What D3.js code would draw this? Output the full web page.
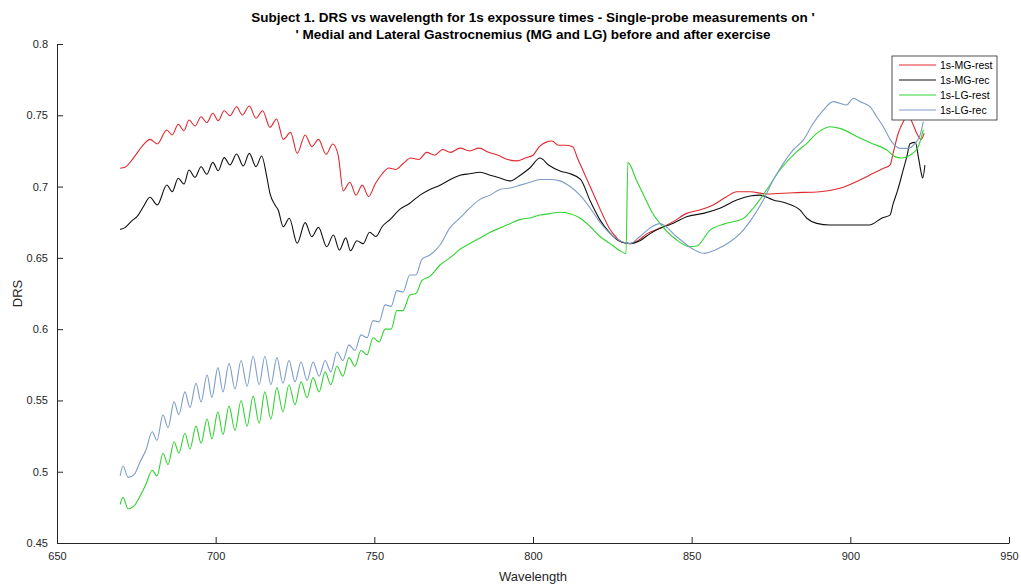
<!DOCTYPE html>
<html>
<head>
<meta charset="utf-8">
<script src="https://cdn.jsdelivr.net/npm/d3@7"></script>
<style>
	body { margin: 0; background: #fff; }
	svg { display: block; font-family: "Liberation Sans", Arial, sans-serif; }
</style>
</head>
<body>
<div id="chart"></div>
<script>
var titleLines = [
	"Subject 1. DRS vs wavelength for 1s expossure times - Single-probe measurements on '",
	"' Medial and Lateral Gastrocnemius (MG and LG) before and after exercise"
];
var xTicks = [650, 700, 750, 800, 850, 900, 950];
var yTicks = [0.45, 0.5, 0.55, 0.6, 0.65, 0.7, 0.75, 0.8];
var seriesNames = ["1s-MG-rest", "1s-MG-rec", "1s-LG-rest", "1s-LG-rec"];

// [wavelength, DRS]
var mgRest = [
	[669.9,0.7128],[671.4,0.7135],[674,0.7198],[677.2,0.7292],[679.3,0.7331],[681.6,0.7299],[684.6,0.7397],[686.3,0.7362],
	[688.2,0.7437],[690,0.7392],[691.6,0.7467],[693.5,0.7425],[695.4,0.749],[697.2,0.7448],[699.1,0.7514],[700.8,0.7462],
	[702.7,0.7532],[704.5,0.7497],[706.6,0.756],[708.4,0.7502],[710.6,0.7565],[712.7,0.7479],[714.8,0.7532],[717.1,0.7416],
	[719.2,0.7474],[721.3,0.7331],[723.6,0.738],[725.7,0.7233],[728.2,0.7362],[730.3,0.728],[732.4,0.7331],[734.8,0.7226],
	[736.9,0.7299],[738.6,0.7221],[740.2,0.697],[742.3,0.703],[744.2,0.694],[746.2,0.701],[748.2,0.693],[750.3,0.702],
	[752.5,0.709],[754.6,0.713],[756.8,0.712],[759,0.716],[761.5,0.72],[764,0.719],[766.5,0.724],[769,0.722],
	[771.5,0.726],[774,0.724],[777,0.727],[780,0.725],[783,0.727],[786,0.724],[789,0.722],[792,0.719],
	[795,0.718],[797.5,0.72],[800,0.722],[802,0.728],[804,0.731],[806,0.732],[808,0.729],[810,0.729],
	[812.5,0.728],[814,0.72],[816,0.71],[818,0.7],[820,0.69],[822,0.68],[824,0.671],[826,0.665],
	[828,0.661],[830.5,0.66],[833,0.662],[836,0.667],[840,0.6707],[844.2,0.6754],[848.4,0.6812],[852.6,0.6836],
	[856.8,0.6871],[861,0.6929],[864.2,0.6964],[868.4,0.6964],[873.6,0.6948],[882,0.6957],[890.4,0.6964],[896.7,0.6988],
	[903,0.7046],[907.2,0.7093],[910.4,0.7128],[912.5,0.7151],[913.6,0.7245],[915.1,0.7374],[916.7,0.7455],[918.3,0.7502],
	[919.5,0.745],[921,0.737],[922.3,0.733],[923.3,0.7375]
];
var mgRec = [
	[669.9,0.67],[671.4,0.6712],[673.5,0.6758],[675.6,0.68],[677.2,0.6859],[679.3,0.6925],[681.6,0.6871],[684.6,0.7011],
	[686.3,0.6964],[688.2,0.7058],[690,0.7018],[691.6,0.7116],[693.5,0.7065],[695.4,0.7139],[697.2,0.7086],[699.1,0.717],
	[700.8,0.7111],[702.7,0.7203],[704.5,0.7151],[706.6,0.7228],[708.7,0.7144],[710.6,0.7233],[712.7,0.714],[714.5,0.7214],
	[716.1,0.7069],[717.1,0.6953],[718.7,0.6871],[719.7,0.6836],[721.3,0.6719],[723.2,0.6778],[725.7,0.6602],[728.2,0.6747],
	[730.3,0.6648],[732.4,0.6714],[735,0.6578],[737.1,0.666],[739,0.6555],[741,0.664],[742.5,0.655],[744.5,0.662],
	[746.5,0.66],[748.5,0.668],[750.5,0.665],[752.5,0.672],[755,0.677],[758,0.684],[761,0.688],[764.4,0.694],
	[767.5,0.698],[770.7,0.701],[774,0.705],[777,0.708],[780,0.709],[783.3,0.71],[786.5,0.708],[789.6,0.706],
	[792.8,0.704],[796,0.708],[799,0.713],[802.2,0.72],[805,0.715],[808.5,0.711],[811.7,0.709],[815,0.705],
	[818,0.69],[821,0.677],[824,0.668],[827,0.662],[830.6,0.66],[833.7,0.662],[836.9,0.667],[840,0.6707],
	[844.2,0.6742],[848.4,0.6789],[853.7,0.6812],[858.9,0.6848],[864.2,0.6906],[868.4,0.6934],[871.5,0.694],[875.7,0.6906],
	[879.9,0.6883],[884.1,0.6836],[886.3,0.6778],[889.4,0.6742],[893.6,0.673],[900,0.673],[906,0.673],[910,0.678],
	[912.5,0.68],[913.5,0.688],[915,0.698],[916.7,0.712],[917.8,0.721],[918.8,0.73],[920.5,0.731],[921.5,0.72],
	[922.3,0.71],[922.8,0.706],[923.5,0.715]
];
var lgRest = [
	[669.9,0.477],[670.8,0.482],[672.4,0.474],[674.3,0.476],[676.2,0.483],[678,0.491],[680,0.501],[681.5,0.497],
	[683.4,0.513],[685,0.505],[686.9,0.521],[688.4,0.513],[690.3,0.527],[691.9,0.516],[693.8,0.532],[695.4,0.52],
	[697.3,0.537],[698.8,0.523],[700.7,0.542],[702.3,0.526],[704.2,0.546],[706.1,0.529],[708,0.55],[709.9,0.532],
	[711.8,0.553],[713.7,0.534],[715.5,0.556],[717.4,0.537],[719.3,0.559],[721.2,0.542],[723.1,0.561],[725,0.547],
	[726.9,0.563],[728.8,0.552],[730.7,0.566],[732.6,0.556],[734.5,0.57],[736.3,0.561],[738.2,0.574],[740.1,0.567],
	[742,0.58],[743.9,0.574],[745.8,0.585],[747.7,0.582],[749.6,0.594],[751.5,0.591],[753.4,0.6],[755.3,0.6],
	[757.1,0.613],[759,0.613],[761.2,0.624],[763.1,0.625],[765,0.634],[767.5,0.637],[770.7,0.645],[773.8,0.65],
	[777,0.656],[780.1,0.66],[783.3,0.664],[786.5,0.668],[789.6,0.671],[792.8,0.674],[796,0.677],[799,0.678],
	[802.2,0.68],[805.4,0.681],[808.5,0.682],[811.7,0.681],[814.8,0.678],[818,0.672],[821.1,0.665],[824.3,0.66],
	[827.4,0.655],[829.3,0.653],[829.9,0.717],[832.5,0.705],[835.3,0.692],[837.5,0.682],[840,0.6742],[845.3,0.6625],
	[849.5,0.6578],[851.6,0.6583],[855.8,0.6695],[861,0.6742],[866.3,0.6777],[869.4,0.6848],[873.6,0.6976],[877.8,0.7116],
	[883.1,0.7245],[886.3,0.7303],[889.4,0.7373],[893.6,0.742],[896.7,0.7408],[903,0.734],[907,0.73],[911.5,0.7257],
	[914,0.721],[916.2,0.72],[918.8,0.722],[921.4,0.728],[923,0.74]
];
var lgRec = [
	[669.9,0.497],[670.8,0.504],[672.4,0.496],[674.3,0.498],[676.2,0.507],[678,0.515],[680,0.528],[681.5,0.522],
	[683.4,0.54],[685,0.531],[686.9,0.549],[688.4,0.54],[690.3,0.556],[691.9,0.545],[693.8,0.562],[695.4,0.549],
	[697.3,0.568],[698.8,0.552],[700.7,0.573],[702.3,0.556],[704.2,0.576],[706.1,0.558],[708,0.578],[709.9,0.56],
	[711.8,0.581],[713.7,0.561],[715.5,0.581],[717.4,0.561],[719.3,0.58],[721.2,0.562],[723.1,0.578],[725,0.563],
	[726.9,0.577],[728.8,0.564],[730.7,0.577],[732.6,0.567],[734.5,0.578],[736.3,0.57],[738.2,0.584],[740.1,0.578],
	[742,0.589],[743.9,0.585],[745.8,0.596],[747.7,0.594],[749.6,0.606],[751.5,0.605],[753.4,0.617],[755.3,0.616],
	[757.1,0.627],[759,0.626],[761.2,0.638],[763.1,0.638],[765,0.649],[767.5,0.652],[770.7,0.659],[773.8,0.671],
	[777,0.678],[780.1,0.685],[783.3,0.691],[786.5,0.694],[789.6,0.698],[792.8,0.699],[796,0.701],[799,0.703],
	[802.2,0.705],[805.4,0.705],[808.5,0.704],[811.7,0.7],[814.8,0.694],[818,0.685],[821.1,0.675],[824.3,0.667],
	[827.4,0.662],[830.6,0.66],[833.7,0.665],[836.9,0.671],[840,0.674],[845.3,0.6648],[850.5,0.656],[853.7,0.6532],
	[857.9,0.656],[862.1,0.6613],[866.3,0.6695],[869.4,0.6789],[872.6,0.6906],[875.7,0.7046],[878.9,0.7163],[882,0.7257],
	[885.2,0.7327],[888.3,0.7444],[891.5,0.7537],[894.6,0.7596],[896.7,0.7584],[898.8,0.7572],[901,0.7619],[903,0.7596],
	[906.2,0.756],[908.3,0.749],[910.4,0.742],[913,0.7315],[915.7,0.7268],[918.3,0.7268],[920.4,0.7303],[922,0.7362],
	[923,0.7455]
];
var seriesData = [mgRest, mgRec, lgRest, lgRec];
var seriesColors = ["#e0282e", "#111111", "#2fd42f", "#7d9cc6"];

var width = 1021, height = 585;
var margin = {left: 57, right: 12, top: 44, bottom: 42};

var svg = d3.select("#chart")
	.append("svg")
	.attr("width", width)
	.attr("height", height);

var x = d3.scaleLinear()
	.domain([650, 950])
	.range([margin.left, width - margin.right]);
var y = d3.scaleLinear()
	.domain([0.45, 0.8])
	.range([height - margin.bottom, margin.top]);

// axes, matlab style: ticks inward, no box
var xAxis = d3.axisBottom(x)
	.tickValues(xTicks)
	.tickSizeInner(-6)
	.tickSizeOuter(0)
	.tickPadding(9)
	.tickFormat(d3.format("d"));
var yAxis = d3.axisLeft(y)
	.tickValues(yTicks)
	.tickSizeInner(-6)
	.tickSizeOuter(0)
	.tickPadding(9)
	.tickFormat(function (d) { return d3.format("")(+d.toFixed(2)); });

var gx = svg.append("g")
	.attr("transform", "translate(0," + (height - margin.bottom) + ")")
	.call(xAxis);
var gy = svg.append("g")
	.attr("transform", "translate(" + margin.left + ",0)")
	.call(yAxis);

[gx, gy].forEach(function (g) {
	g.selectAll("path, line").attr("stroke", "#262626");
	g.selectAll("text")
		.attr("fill", "#262626")
		.style("font-size", "11px")
		.style("font-family", "\"Liberation Sans\", Arial, sans-serif");
});

var line = d3.line()
	.x(function (d) { return x(d[0]); })
	.y(function (d) { return y(d[1]); })
	.curve(d3.curveMonotoneX);

svg.append("g")
	.selectAll("path")
	.data(seriesData)
	.enter()
	.append("path")
	.attr("d", line)
	.attr("fill", "none")
	.attr("stroke", function (d, i) { return seriesColors[i]; })
	.attr("stroke-width", 1.1);

// title
svg.append("g")
	.selectAll("text")
	.data(titleLines)
	.enter()
	.append("text")
	.attr("x", (margin.left + width - margin.right) / 2)
	.attr("y", function (d, i) { return 22 + i * 17; })
	.attr("text-anchor", "middle")
	.style("font-size", "13.5px")
	.style("font-weight", "bold")
	.attr("fill", "#000")
	.text(function (d) { return d; });

svg.append("text")
	.attr("x", (margin.left + width - margin.right) / 2)
	.attr("y", 581)
	.attr("text-anchor", "middle")
	.style("font-size", "13px")
	.attr("fill", "#262626")
	.text("Wavelength");

svg.append("text")
	.attr("transform", "translate(22," + (height - margin.bottom + margin.top) / 2 + ") rotate(-90)")
	.attr("text-anchor", "middle")
	.style("font-size", "13px")
	.attr("fill", "#262626")
	.text("DRS");

// legend
var legend = svg.append("g")
	.attr("transform", "translate(892,56)");
legend.append("rect")
	.attr("width", 105)
	.attr("height", 64)
	.attr("fill", "#fff")
	.attr("stroke", "#262626")
	.attr("stroke-width", 0.8);
var entry = legend.selectAll("g.entry")
	.data(seriesNames)
	.enter()
	.append("g")
	.attr("class", "entry")
	.attr("transform", function (d, i) { return "translate(0," + (9 + i * 15) + ")"; });
entry.append("line")
	.attr("x1", 7)
	.attr("x2", 44)
	.attr("stroke", function (d, i) { return seriesColors[i]; })
	.attr("stroke-width", 1);
entry.append("text")
	.attr("x", 48)
	.attr("dy", "0.35em")
	.style("font-size", "10.5px")
	.attr("fill", "#000")
	.text(function (d) { return d; });
</script>
</body>
</html>
